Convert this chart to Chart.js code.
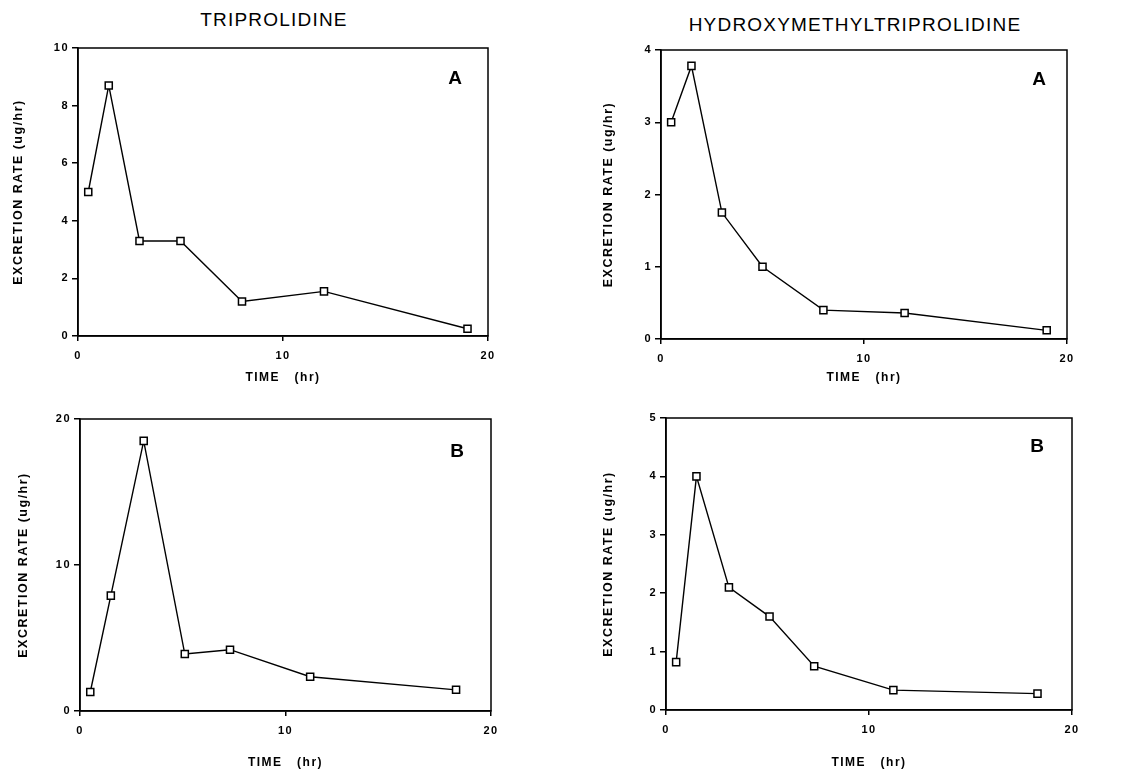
<!DOCTYPE html>
<html>
<head>
<meta charset="utf-8">
<script src="https://cdn.jsdelivr.net/npm/chart.js@4.4.1/dist/chart.umd.min.js"></script>
<style>
body { margin: 0; background: #fff; width: 1121px; height: 772px; position: relative; overflow: hidden;
       font-family: "Liberation Sans", Arial, sans-serif; }
.panel { position: absolute; }
.heading { position: absolute; font-size: 19px; letter-spacing: 1.2px; color: #000;
           transform: translate(-50%, -50%); white-space: nowrap; }
</style>
</head>
<body>
<div class="heading" style="left:274px;top:20px">TRIPROLIDINE</div>
<div class="heading" style="left:855px;top:25px">HYDROXYMETHYLTRIPROLIDINE</div>

<canvas id="tl" class="panel" width="560" height="352" style="left:0;top:38px"></canvas>
<canvas id="tr" class="panel" width="561" height="352" style="left:560px;top:38px"></canvas>
<canvas id="bl" class="panel" width="560" height="382" style="left:0;top:390px"></canvas>
<canvas id="br" class="panel" width="561" height="382" style="left:560px;top:390px"></canvas>

<script>
// Sampling times (hr) for the two subjects / conditions
const timeA = [0.5, 1.5, 3, 5, 8, 12, 19];
const timeB = [0.5, 1.5, 3.1, 5.1, 7.3, 11.2, 18.3];

// Excretion rates (ug/hr)
const tripA = [5.0, 8.7, 3.3, 3.3, 1.2, 1.55, 0.25];
const hydroxyA = [3.0, 3.78, 1.75, 1.0, 0.4, 0.36, 0.12];
const tripB = [1.3, 7.9, 18.5, 3.9, 4.2, 2.35, 1.45];
const hydroxyB = [0.82, 4.0, 2.1, 1.6, 0.75, 0.34, 0.28];

const xTitle = 'TIME   (hr)';
const yTitle = 'EXCRETION RATE (ug/hr)';

const FONT = '"Liberation Sans", Arial, sans-serif';

// frame around the plot + letter spacing + panel letter
const framePlugin = {
    id: 'frame',
    beforeDraw(chart) {
        chart.ctx.letterSpacing = '1.5px';
    },
    afterDatasetsDraw(chart, args, opts) {
        const { ctx, chartArea: a } = chart;
        ctx.save();
        ctx.strokeStyle = '#000';
        ctx.lineWidth = 1.5;
        ctx.strokeRect(a.left, a.top, a.right - a.left, a.bottom - a.top);
        ctx.fillStyle = '#000';
        ctx.font = 'bold 19px ' + FONT;
        ctx.letterSpacing = '0px';
        ctx.textAlign = 'center';
        ctx.textBaseline = 'middle';
        ctx.fillText(opts.label, a.right - opts.dx, a.top + opts.dy);
        ctx.restore();
    },
    afterDraw(chart) {
        chart.ctx.letterSpacing = '0px';
    }
};

function makeChart(id, xs, ys, p) {
    const pts = xs.map((t, i) => ({ x: t, y: ys[i] }));
    new Chart(document.getElementById(id), {
        type: 'line',
        data: {
            datasets: [{
                data: pts,
                borderColor: '#000',
                borderWidth: 1.4,
                tension: 0,
                pointStyle: 'rect',
                pointRadius: 5,
                pointBorderWidth: 1.5,
                pointBorderColor: '#000',
                pointBackgroundColor: '#fff'
            }]
        },
        options: {
            responsive: false,
            animation: false,
            layout: { padding: { left: p.padLeft, top: p.padTop, right: p.padRight, bottom: 0 } },
            plugins: {
                legend: { display: false },
                tooltip: { enabled: false },
                frame: { label: p.label, dx: p.dx, dy: p.dy }
            },
            scales: {
                x: {
                    type: 'linear',
                    min: 0, max: 20,
                    afterFit: s => { s.height = p.xAxisH; },
                    grid: { drawOnChartArea: false, tickLength: 5, color: '#000', lineWidth: 1.5 },
                    border: { color: '#000', width: 1.5 },
                    ticks: { stepSize: 10, padding: 8, color: '#000', font: { family: FONT, size: 11, weight: 'bold' } },
                    title: { display: true, text: xTitle, color: '#000',
                             padding: { top: 0, bottom: p.xTitlePad },
                             font: { family: FONT, size: 12, weight: 'bold', lineHeight: 1 } }
                },
                y: {
                    min: 0, max: p.yMax,
                    afterFit: s => { s.width = p.yAxisW; },
                    grid: { drawOnChartArea: false, tickLength: 6, color: '#000', lineWidth: 1.5 },
                    border: { color: '#000', width: 1.5 },
                    ticks: { stepSize: p.yStep, padding: 3, color: '#000', font: { family: FONT, size: 11, weight: 'bold' } },
                    title: { display: true, text: yTitle, color: '#000',
                             padding: { top: 0, bottom: 0 },
                             font: { family: FONT, size: 12.5, weight: 'bold', lineHeight: 1 } }
                }
            }
        },
        plugins: [framePlugin]
    });
}

makeChart('tl', timeA, tripA, { padLeft: 12, yAxisW: 66, padTop: 10, padRight: 72, xAxisH: 54, xTitlePad: 6,
                                yMax: 10, yStep: 2, label: 'A', dx: 33, dy: 31 });
makeChart('tr', timeA, hydroxyA, { padLeft: 42, yAxisW: 59, padTop: 12, padRight: 54, xAxisH: 51, xTitlePad: 6,
                                   yMax: 4, yStep: 1, label: 'A', dx: 28, dy: 30 });
makeChart('bl', timeB, tripB, { padLeft: 17, yAxisW: 63, padTop: 29, padRight: 69, xAxisH: 61, xTitlePad: 3,
                                yMax: 20, yStep: 10, label: 'B', dx: 34, dy: 33 });
makeChart('br', timeB, hydroxyB, { padLeft: 42, yAxisW: 64, padTop: 28, padRight: 49, xAxisH: 62, xTitlePad: 3,
                                   yMax: 5, yStep: 1, label: 'B', dx: 35, dy: 29 });
</script>
</body>
</html>
